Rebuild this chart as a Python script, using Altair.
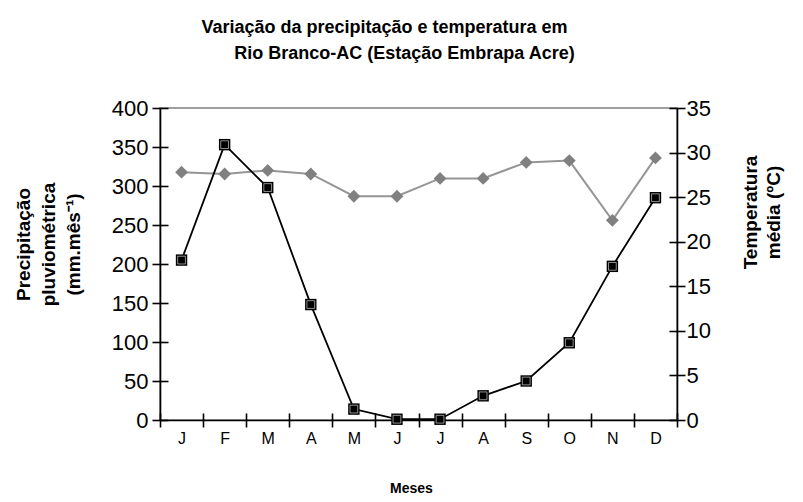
import altair as alt
import pandas as pd

# ---- data ----
meses = ["J", "F", "M", "A", "M", "J", "J", "A", "S", "O", "N", "D"]
precipitacao = [205, 353, 298, 148, 14, 1, 1, 31, 50, 99, 197, 285]
temperatura = [27.8, 27.6, 28.0, 27.6, 25.1, 25.1, 27.1, 27.1, 28.9, 29.1, 22.4, 29.4]
precip_ticks = [0, 50, 100, 150, 200, 250, 300, 350, 400]
temp_ticks = [0, 5, 10, 15, 20, 25, 30, 35]

df = pd.DataFrame({
    "idx": list(range(len(meses))),
    "mes": meses,
    "precip": precipitacao,
    "temp": temperatura,
})

FONT = "Liberation Sans"
label_expr = "[" + ",".join(f"'{m}'" for m in meses) + "][datum.value]"

xscale = alt.Scale(type="band", paddingInner=0, paddingOuter=0)
pscale = alt.Scale(domain=[0, 400], nice=False, zero=True)
tscale = alt.Scale(domain=[0, 35], nice=False, zero=True)

x_main = alt.X("idx:O", scale=xscale, axis=alt.Axis(
    orient="bottom", labelExpr=label_expr, tickBand="extent", tickSize=7,
    labelFontSize=16, labelPadding=3, labelAngle=0, grid=False,
    title="Meses", titleFontSize=14, titleFontWeight="bold",
    titleX=251, titleY=68, titleAlign="center", titleBaseline="middle"))
x_inner = alt.X("idx:O", scale=xscale, axis=alt.Axis(
    orient="bottom", offset=-7, tickSize=7, labels=False, domain=False,
    tickBand="extent", grid=False, title=None))
x_none = alt.X("idx:O", scale=xscale, axis=None)

y_precip = alt.Y("precip:Q", scale=pscale, axis=alt.Axis(
    orient="left", values=precip_ticks, tickSize=8, labelFontSize=22,
    labelPadding=4, grid=False,
    title=["Precipitação", "pluviométrica", "(mm.mês⁻¹)"],
    titleAngle=-90, titleX=-137, titleY=136, titleFontSize=19,
    titleFontWeight="bold", titleAlign="center", titleBaseline="middle",
    titleLineHeight=25))
y_precip_inner = alt.Y("precip:Q", scale=pscale, axis=alt.Axis(
    orient="left", values=precip_ticks, offset=-8, tickSize=8,
    labels=False, domain=False, grid=False, title=None))
y_precip_none = alt.Y("precip:Q", scale=pscale, axis=None)

y_temp = alt.Y("temp:Q", scale=tscale, axis=alt.Axis(
    orient="right", values=temp_ticks, tickSize=8, labelFontSize=22,
    labelPadding=1, grid=False,
    title=["Temperatura", "média (ºC)"],
    titleAngle=-90, titleX=73, titleY=104, titleFontSize=19,
    titleFontWeight="bold", titleAlign="center", titleBaseline="middle",
    titleLineHeight=23))
y_temp_inner = alt.Y("temp:Q", scale=tscale, axis=alt.Axis(
    orient="right", values=temp_ticks, offset=-8, tickSize=8,
    labels=False, domain=False, grid=False, title=None))

base = alt.Chart(df)

temp_line = base.mark_line(color="#959595", strokeWidth=2).encode(x=x_none, y=y_temp)
temp_pts = base.mark_point(shape="diamond", filled=True, size=165, color="#808080",
                           opacity=1).encode(x=x_none, y=y_temp_inner)
precip_line = base.mark_line(color="black", strokeWidth=1.8).encode(x=x_main, y=y_precip)
precip_pts = base.mark_point(shape="square", filled=True, size=130, color="black",
                             opacity=1).encode(x=x_inner, y=y_precip_inner)
precip_hl = base.mark_point(shape="square", filled=False, size=60, color="white",
                            strokeWidth=0.7, opacity=0.8).encode(x=x_none, y=y_precip_none)

chart = alt.layer(
    temp_line, temp_pts, precip_line, precip_pts, precip_hl
).resolve_scale(
    x="independent", y="independent"
).properties(
    width=517, height=312,
    autosize=alt.AutoSizeParams(type="none"),
    padding={"left": 152, "top": 100, "right": 110, "bottom": 74},
    title=alt.TitleParams(
        text=["Variação da precipitação e temperatura em",
              "\u200b" + "\u00a0" * 8 + "Rio Branco-AC (Estação Embrapa Acre)"],
        anchor="middle", dx=-34, fontSize=18, fontWeight="bold", font=FONT,
        lineHeight=26, color="black", offset=34),
).configure_view(
    stroke="#808080", strokeWidth=1.5
).configure_axis(
    domainColor="black", tickColor="black", domainWidth=1.6, tickWidth=1.6,
    labelFont=FONT, titleFont=FONT, labelColor="black", titleColor="black"
)

chart.save("out.html", embed_options={"renderer": "svg", "actions": False})
